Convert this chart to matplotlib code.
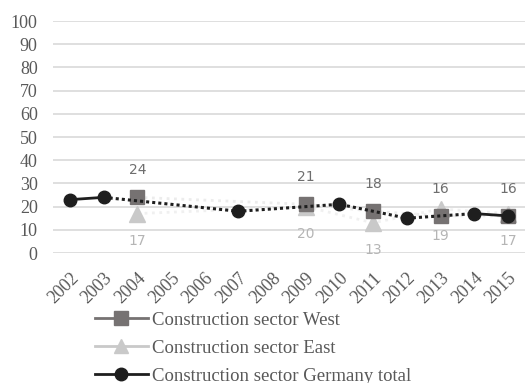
import numpy as np
from matplotlib import pyplot as plt
from matplotlib.lines import Line2D

years = np.arange(2002, 2016)

# sector West / East, only surveyed years
west_years = [2004, 2009, 2011, 2013, 2015]
west_vals = [24, 21, 18, 16, 16]
east_years = [2004, 2009, 2011, 2013, 2015]
east_vals = [17, 20, 13, 19, 17]

# Germany total
total_years = [2002, 2003, 2007, 2010, 2012, 2014, 2015]
total_vals = [23, 24, 18, 21, 15, 17, 16]

yticks = np.arange(0, 101, 10)

c_west = "#767272"
c_east = "#c9c9c9"
c_total = "#1e1e1e"
c_text = "#595959"
serif = "Liberation Serif"

fig = plt.figure(figsize=(5.28, 3.83), dpi=100)
ax = fig.add_axes([0.1004, 0.3394, 0.8936, 0.6056])

ax.set_xlim(2001.5, 2015.5)
ax.set_ylim(0, 100)
ax.set_yticks(yticks)
ax.set_xticks(years)
ax.grid(axis="y", color="#d9d9d9", linewidth=1.2, zorder=0)
ax.tick_params(length=0, labelcolor=c_text)
for s in ax.spines.values():
    s.set_visible(False)

ax.set_yticklabels([str(v) for v in yticks], fontfamily=serif, fontsize=13)
ax.set_xticklabels([str(y) for y in years], fontfamily=serif, fontsize=13,
                   rotation=45, ha="right", va="top", rotation_mode="anchor")
ax.tick_params(axis="y", pad=11)
ax.tick_params(axis="x", pad=12)

# faint connecting lines for the regional series
ax.plot(west_years, west_vals, color="#ececec", lw=2, ls=":", zorder=2)
ax.plot(east_years, east_vals, color="#f0f0f0", lw=2, ls=":", zorder=2)

ax.plot(east_years, east_vals, ls="none", marker="^", ms=11, color=c_east, zorder=3)
ax.plot(west_years, west_vals, ls="none", marker="s", ms=10.5, color=c_west, zorder=4)

# Germany total: solid at the ends, dotted across the gap years
ax.plot(total_years[:2], total_vals[:2], color=c_total, lw=2, zorder=5)
ax.plot(total_years[1:-1], total_vals[1:-1], color=c_total, lw=2.2, ls=(0, (1, 1)), zorder=5)
ax.plot(total_years[-2:], total_vals[-2:], color=c_total, lw=2, zorder=5)
ax.plot(total_years, total_vals, ls="none", marker="o", ms=9, color=c_total, zorder=6)

for x, v in zip(west_years, west_vals):
    ax.annotate(str(v), (x, v), xytext=(0, 19.5), textcoords="offset points",
                ha="center", va="center", fontsize=10, color="#6e6e6e")
for x, v in zip(east_years, east_vals):
    ax.annotate(str(v), (x, v), xytext=(0, -19.5), textcoords="offset points",
                ha="center", va="center", fontsize=10, color="#b5b5b5")

handles = [
    Line2D([], [], color=c_west, lw=2, marker="s", ms=10),
    Line2D([], [], color=c_east, lw=2, marker="^", ms=10),
    Line2D([], [], color=c_total, lw=2, marker="o", ms=9),
]
labels = ["Construction sector West", "Construction sector East",
          "Construction sector Germany total"]
fig.legend(handles, labels, loc="upper left", bbox_to_anchor=(0.18, 0.187),
           frameon=False, handlelength=2.8, handletextpad=0.25, labelspacing=0.58,
           borderaxespad=0, borderpad=0,
           prop={"family": serif, "size": 13.5}, labelcolor=c_text)

fig.savefig("out.png", dpi=100)
